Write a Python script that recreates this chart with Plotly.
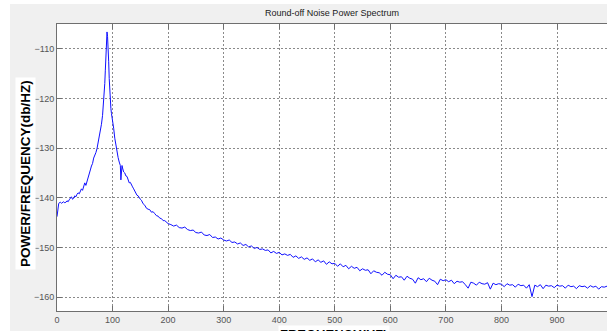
import plotly.graph_objects as go

# ---- data (frequency in Hz, PSD in dB/Hz) ----
freq_low = [0, 1, 2, 3, 4, 6, 8, 10, 12, 14, 16, 18, 20, 22, 24, 26, 28, 30, 32, 34,
            36, 38, 40, 42, 44, 46, 48, 50, 52, 54, 56, 58, 60, 62, 64, 66, 68, 70,
            72, 74, 76, 78, 80, 82, 84, 85, 86, 87, 88, 89, 90, 91, 92, 93, 94, 95,
            96, 97, 98, 100, 102, 104, 106, 108, 110, 112, 113, 114, 115, 116, 117,
            118, 120, 122, 124, 126, 128, 130, 132, 134, 136, 138, 140, 142, 144,
            146, 148, 150, 152, 155, 158, 161, 164, 167, 170, 173, 176, 179, 182,
            185, 188, 191, 194, 197, 200]
psd_low = [-143.8, -142.6, -141.6, -141.2, -141.0, -140.9, -141.1, -141.0, -140.8, -141.0,
           -140.9, -140.6, -140.8, -140.4, -140.2, -139.8, -140.3, -140.1, -139.6, -139.8,
           -139.3, -139.0, -139.2, -138.6, -138.2, -138.5, -137.6, -137.0, -137.5, -136.6,
           -135.6, -135.2, -134.4, -133.6, -133.1, -132.0, -131.5, -130.9, -130.1, -129.0,
           -128.0, -126.6, -125.2, -123.4, -120.9, -119.3, -117.0, -114.3, -111.0, -108.2,
           -106.6, -107.5, -109.0, -112.5, -116.0, -119.0, -121.0, -122.0, -123.0, -124.3,
           -126.0, -128.0, -129.6, -130.8, -131.9, -132.8, -133.4, -133.5, -136.4, -134.2,
           -133.5, -134.0, -134.8, -135.0, -135.6, -135.7, -136.4, -137.0, -136.9, -137.5,
           -137.8, -138.2, -138.6, -139.2, -139.5, -139.6, -140.1, -140.3, -140.5, -141.2,
           -141.5, -142.1, -142.3, -142.4, -142.9, -142.8, -143.2, -143.6, -143.7, -144.1,
           -144.2, -144.6, -144.6, -144.9, -145.2]

freq_high = [205, 210, 215, 220, 225, 230, 235, 240, 245, 250, 255, 260, 265, 270, 275,
             280, 285, 290, 295, 300, 305, 310, 315, 320, 325, 330, 335, 340, 345, 350,
             355, 360, 365, 370, 375, 380, 385, 390, 395, 400, 405, 410, 415, 420, 425,
             430, 435, 440, 445, 450, 455, 460, 465, 470, 475, 480, 485, 490, 495, 500,
             505, 510, 515, 520, 525, 530, 535, 540, 545, 550, 555, 560, 565, 570, 575,
             580, 585, 590, 595, 600, 605, 610, 615, 620, 625, 630, 635, 640, 645, 650,
             655, 660, 665, 670, 675, 680, 685, 690, 695, 700, 705, 710, 715, 720, 725,
             730, 735, 740, 745, 750, 755, 760, 765, 770, 775, 780, 785, 790, 795, 800,
             805, 810, 815, 820, 825, 830, 835, 840, 845, 850, 855, 860, 865, 870, 875,
             880, 885, 890, 895, 900, 905, 910, 915, 920, 925, 930, 935, 940, 945, 950,
             955, 960, 965, 970, 975, 980, 985, 990]
psd_high = [-145.4, -145.7, -145.5, -146.0, -146.1, -145.9, -146.4, -146.6, -146.5, -147.0,
            -147.1, -146.9, -147.5, -147.6, -147.4, -148.0, -147.9, -148.3, -148.1, -148.5,
            -148.7, -148.5, -149.0, -148.9, -149.3, -149.1, -149.6, -149.4, -149.9, -149.7,
            -150.2, -150.0, -150.4, -150.3, -150.6, -150.5, -151.1, -150.8, -151.2, -151.0,
            -151.5, -151.3, -151.6, -151.4, -152.0, -151.7, -152.2, -151.9, -152.4, -152.1,
            -152.6, -152.3, -152.9, -152.5, -153.0, -152.7, -153.4, -152.9, -153.3, -153.2,
            -153.8, -153.3, -153.9, -153.6, -154.3, -153.8, -154.2, -154.0, -154.7, -154.3,
            -154.6, -154.5, -155.3, -154.7, -155.0, -155.1, -155.6, -155.0, -155.4, -155.5,
            -156.3, -155.6, -156.0, -155.9, -156.6, -155.8, -156.2, -156.4, -157.2, -156.1,
            -156.5, -156.3, -156.9, -156.2, -156.6, -156.8, -157.5, -156.4, -156.7, -156.5,
            -156.9, -156.6, -157.3, -156.8, -157.0, -156.9, -157.5, -158.2, -157.0, -157.2,
            -157.6, -157.0, -157.3, -157.4, -157.1, -158.4, -157.2, -157.5, -157.3, -157.4,
            -157.9, -157.3, -157.6, -157.5, -158.0, -157.4, -157.7, -157.6, -158.2, -157.5,
            -159.9, -157.6, -157.9, -157.5, -158.3, -157.6, -157.8, -157.7, -158.1, -157.6,
            -157.8, -157.7, -158.2, -157.6, -157.9, -157.8, -158.3, -157.7, -157.9, -157.8,
            -158.2, -157.7, -158.0, -157.8, -158.4, -157.9, -158.0, -157.8]

freq = freq_low + freq_high
psd = psd_low + psd_high

x_ticks = [0, 100, 200, 300, 400, 500, 600, 700, 800, 900]
y_ticks = [-160, -150, -140, -130, -120, -110]

title_text = "Round-off Noise Power Spectrum"
x_label = "FREQUENCY(HZ)"
y_label = "POWER/FREQUENCY(db/HZ)"

# ---- figure ----
W, H = 607, 331
L, R, T, B = 57, 0, 24, 20
pw, ph = W - L - R, H - T - B


def px_x(p):
    return (p - L) / pw


def px_y(p):
    return (H - B - p) / ph


fig = go.Figure()
fig.add_trace(go.Scatter(x=freq, y=psd, mode="lines",
                         line=dict(color="#1010ff", width=1), hoverinfo="skip",
                         showlegend=False))

axis_common = dict(
    showline=True, linecolor="#6f6f6f", linewidth=1,
    ticks="inside", ticklen=5, tickcolor="#6f6f6f", tickwidth=1,
    showgrid=True, gridcolor="#8a8a8a", gridwidth=1, griddash="2px,2px",
    zeroline=False,
    tickfont=dict(family="Liberation Sans, Arial, sans-serif", size=9, color="#555555"),
)

fig.update_xaxes(range=[0, 990], tickvals=x_ticks, mirror="ticks", **axis_common)
fig.update_yaxes(range=[-162.8, -105.0], tickvals=y_ticks, mirror=False, **axis_common)

shapes = [
    # white strips of the surrounding page
    dict(type="rect", xref="paper", yref="paper", x0=px_x(-5), x1=px_x(10),
         y0=px_y(H + 5), y1=px_y(-5), fillcolor="white", line=dict(width=0), layer="below"),
    dict(type="rect", xref="paper", yref="paper", x0=px_x(-5), x1=px_x(W + 5),
         y0=px_y(4), y1=px_y(-5), fillcolor="white", line=dict(width=0), layer="below"),
]

annotations = [
    dict(text=title_text, xref="paper", yref="paper", x=0.5, y=px_y(13),
         xanchor="center", yanchor="middle", showarrow=False,
         font=dict(family="Liberation Sans, Arial, sans-serif", size=9, color="#1a1a1a")),
    dict(text="<b>%s</b>" % y_label, xref="paper", yref="paper", x=px_x(26), y=px_y(174),
         xanchor="center", yanchor="middle", textangle=-90, showarrow=False,
         bgcolor="white", borderpad=2,
         font=dict(family="Liberation Sans, Arial, sans-serif", size=13.5, color="black")),
    dict(text="<b>%s</b>" % x_label, xref="paper", yref="paper", x=px_x(334), y=px_y(325),
         xanchor="center", yanchor="top", showarrow=False,
         bgcolor="white", borderpad=1,
         font=dict(family="Liberation Sans, Arial, sans-serif", size=13, color="black")),
]

fig.update_layout(
    width=W, height=H,
    margin=dict(l=L, r=R, t=T, b=B, pad=0),
    paper_bgcolor="#f0f0f0", plot_bgcolor="white",
    shapes=shapes, annotations=annotations,
    showlegend=False,
)

fig.write_html("out.html", config={"displayModeBar": False})
